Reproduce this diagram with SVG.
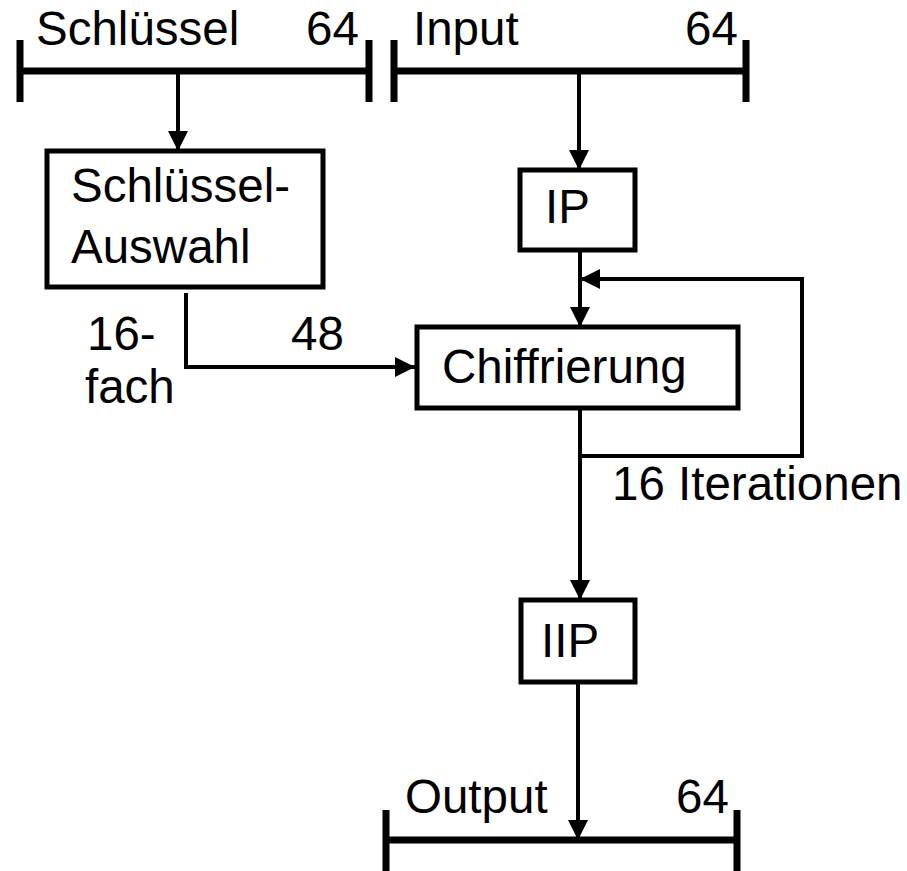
<svg xmlns="http://www.w3.org/2000/svg" width="907" height="871" viewBox="0 0 907 871">
<style>
text{font-family:"Liberation Sans",Arial,sans-serif;font-size:47.5px;fill:#000}
.bus{stroke:#000;stroke-width:7;fill:none}
.box{stroke:#000;stroke-width:5;fill:#fff}
.con{stroke:#000;stroke-width:4;fill:none}
</style>
<defs>
<marker id="ah" markerUnits="userSpaceOnUse" markerWidth="22" markerHeight="20" refX="20" refY="10" orient="auto">
<path d="M0,0 L20,10 L0,20 Z" fill="#000"/>
</marker>
</defs>
<g id="connectors">
<path class="con" d="M178,71 V151" marker-end="url(#ah)"/>
<path class="con" d="M579,71 V170" marker-end="url(#ah)"/>
<path class="con" d="M580,250 V327" marker-end="url(#ah)"/>
<path class="con" d="M580,456 H802 V279 H580" marker-end="url(#ah)"/>
<path class="con" d="M186,293 V367 H415" marker-end="url(#ah)"/>
<path class="con" d="M580,408 V600" marker-end="url(#ah)"/>
<path class="con" d="M578,682 V840" marker-end="url(#ah)"/>
</g>
<g id="key-bus">
<path class="bus" d="M20,40 V102 M369,40 V102 M20,71 H369"/>
<text x="36" y="45">Schlüssel</text>
<text x="306" y="45">64</text>
</g>
<g id="input-bus">
<path class="bus" d="M394,40 V102 M746,40 V102 M394,71 H746"/>
<text x="413" y="45">Input</text>
<text x="685" y="45">64</text>
</g>
<g id="key-select">
<rect class="box" x="47" y="151" width="276" height="136"/>
<text x="71" y="202">Schlüssel-</text>
<text x="71" y="263">Auswahl</text>
</g>
<g id="ip">
<rect class="box" x="520" y="170" width="115" height="80"/>
<text x="545" y="223">IP</text>
</g>
<g id="cipher">
<rect class="box" x="417" y="327" width="321" height="81"/>
<text x="442" y="383">Chiffrierung</text>
</g>
<g id="iip">
<rect class="box" x="521" y="600" width="114" height="82"/>
<text x="541" y="657">IIP</text>
</g>
<g id="output-bus">
<path class="bus" d="M386,810 V871 M737,810 V871 M386,840 H737"/>
<text x="405" y="813">Output</text>
<text x="676" y="813">64</text>
</g>
<g id="labels">
<text x="87" y="350">16-</text>
<text x="85" y="403">fach</text>
<text x="291" y="350">48</text>
<text x="612" y="500">16 Iterationen</text>
</g>
</svg>
